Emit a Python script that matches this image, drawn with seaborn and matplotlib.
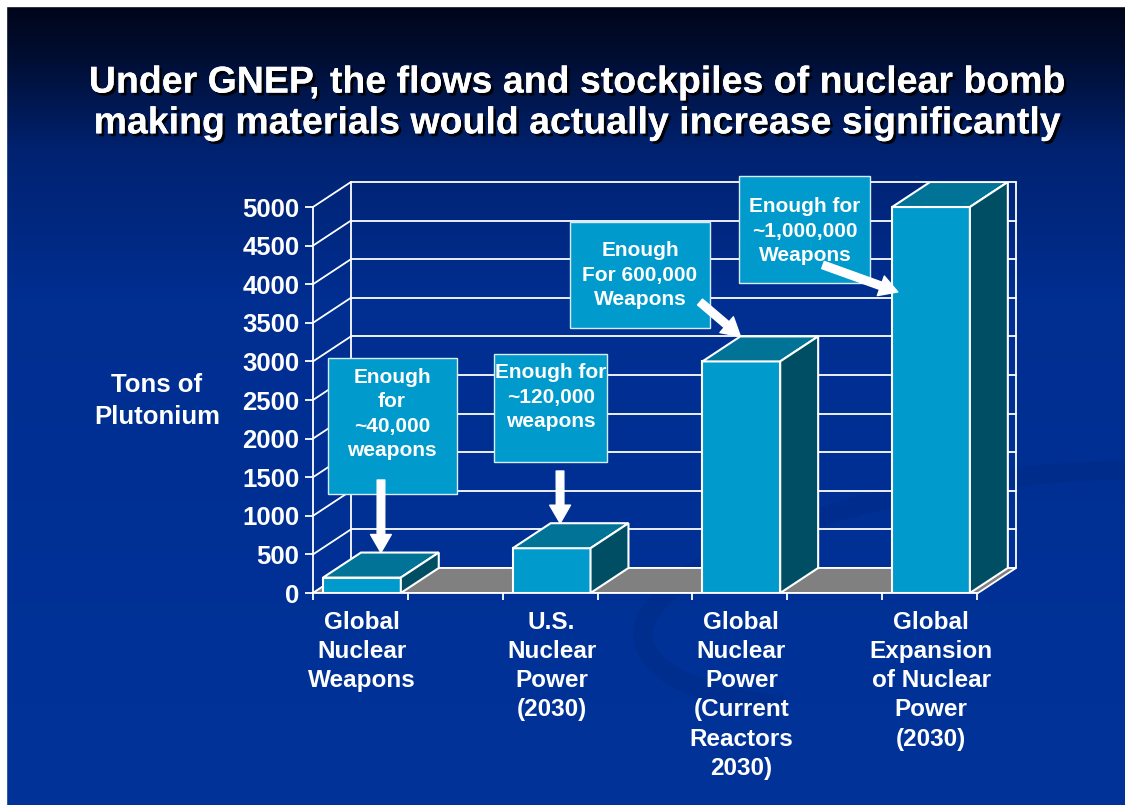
import numpy as np
import matplotlib
matplotlib.use('Agg')
import matplotlib.pyplot as plt
import matplotlib.patheffects as pe
from matplotlib.patches import Polygon, Rectangle, Arc
import seaborn as sns

W, H = 1125, 805

# data
categories = ['Global\nNuclear\nWeapons',
              'U.S.\nNuclear\nPower\n(2030)',
              'Global\nNuclear\nPower\n(Current\nReactors\n2030)',
              'Global\nExpansion\nof Nuclear\nPower\n(2030)']
plutonium_tons = [200, 580, 3000, 5000]
y_ticks = list(range(0, 5001, 500))
callouts = ['Enough\nfor\n~40,000\nweapons',
            'Enough for\n~120,000\nweapons',
            'Enough\nFor 600,000\nWeapons',
            'Enough for\n~1,000,000\nWeapons']
title = ('Under GNEP, the flows and stockpiles of nuclear bomb\n'
         'making materials would actually increase significantly')

front_c = '#009acd'
top_c = '#007396'
side_c = '#004e64'
floor_c = '#808080'

sns.set_theme(style='white')
plt.rcParams['font.family'] = ['Liberation Sans', 'DejaVu Sans']
plt.rcParams['font.weight'] = 'bold'

fig = plt.figure(figsize=(W / 100, H / 100), dpi=100)


def fx(x):
    return x / W


def fy(y):
    return 1 - y / H


## BACKGROUND
bg = fig.add_axes([0, 0, 1, 1], zorder=-10)
stops = np.array([0, 60, 150, 300, 805])
r = np.interp(np.arange(H), stops, [0, 0, 0, 0, 0])
g = np.interp(np.arange(H), stops, [4, 14, 34, 46, 51])
b = np.interp(np.arange(H), stops, [22, 52, 112, 145, 153])
grad = np.stack([r, g, b], axis=-1)[:, None, :] / 255
bg.imshow(grad, aspect='auto', extent=[0, W, H, 0])
bg.add_patch(Arc((1000, 590), 720, 220, angle=-8, theta1=160, theta2=370,
                 color='#002a80', lw=14, alpha=0.35))
bg.add_patch(Rectangle((0, 0), W, 6, color='white'))
bg.add_patch(Rectangle((0, 0), 6, H, color='white'))
bg.set_xlim(0, W)
bg.set_ylim(H, 0)
bg.axis('off')

## CHART
ax = fig.add_axes([fx(313), fy(593), fx(1016) - fx(313), fy(182) - fy(593)])
ax.patch.set_alpha(0)

sns.barplot(x=categories, y=plutonium_tons, color=front_c, saturation=1,
            width=0.41, edgecolor='white', linewidth=1.5, errorbar=None, ax=ax)

x_left, x_right = -0.258, 3.248
dx, dy = 0.2, 324

# 3D faces of the bars
for p in list(ax.patches):
    x0, w, h = p.get_x(), p.get_width(), p.get_height()
    p.set_zorder(4)
    ax.add_patch(Polygon([(x0, h), (x0 + w, h), (x0 + w + dx, h + dy), (x0 + dx, h + dy)],
                         fc=top_c, ec='white', lw=1.5, zorder=4))
    ax.add_patch(Polygon([(x0 + w, 0), (x0 + w + dx, dy), (x0 + w + dx, h + dy), (x0 + w, h)],
                         fc=side_c, ec='white', lw=1.5, zorder=4))

# walls and floor
for t in y_ticks:
    ax.plot([x_left, x_left + dx], [t, t + dy], color='white', lw=1.3, zorder=1, clip_on=False)
    ax.plot([x_left + dx, x_right + dx], [t + dy, t + dy], color='white', lw=1.3, zorder=1,
            clip_on=False)
for xv in [x_left + dx, x_right + dx]:
    ax.plot([xv, xv], [dy, y_ticks[-1] + dy], color='white', lw=1.3, zorder=1, clip_on=False)
ax.add_patch(Polygon([(x_left, 0), (x_right, 0), (x_right + dx, dy), (x_left + dx, dy)],
                     fc=floor_c, ec='white', lw=1.3, zorder=2))

ax.set_xlim(x_left, x_right + dx)
ax.set_ylim(0, y_ticks[-1] + dy)

for s in ['top', 'right']:
    ax.spines[s].set_visible(False)
for s in ['left', 'bottom']:
    ax.spines[s].set_color('white')
    ax.spines[s].set_linewidth(1.3)
    ax.spines[s].set_zorder(5)
ax.spines['left'].set_bounds(0, y_ticks[-1])
ax.spines['bottom'].set_bounds(x_left, x_right)

ax.set_yticks(y_ticks)
ax.tick_params(axis='y', colors='white', length=5.8, width=1.3, direction='out',
               labelsize=18.5, pad=4, left=True)
ax.set_xticks(range(len(categories)), categories)
ax.set_xticks([x_left + 0.5 * k for k in range(8)], minor=True)
ax.tick_params(axis='x', which='major', length=0, pad=13, labelsize=17.5, labelcolor='white')
ax.tick_params(axis='x', which='minor', length=5, width=1.3, color='white',
               direction='out', bottom=True)
for lab in ax.get_xticklabels():
    lab.set_linespacing(1.34)
ax.set_xlabel('')
ax.set_ylabel('Tons of\nPlutonium', rotation=0, color='white', fontsize=18.5,
              fontweight='bold', linespacing=1.4, ha='center', va='center')
ax.yaxis.set_label_coords((157 - 313) / 703, (593 - 401) / 411)

## CALLOUTS
boxes = [(328, 358, 457, 494), (494, 354, 607, 462), (570, 222, 710, 328), (739, 176, 870, 283)]
text_pos = [(392, 414), (551, 397), (640, 275), (805, 231)]
arrow_start = [(381, 480), (560, 471), (700, 302), (823, 265)]
w_bar = 0.41
arrow_tip = [(0 + dx / 2, plutonium_tons[0] + dy),
             (1 + 0.045, plutonium_tons[1] + dy),
             (2 - w_bar / 2 + dx, plutonium_tons[2] + dy),
             (3 - w_bar / 2 + 0.03, 3900)]

for txt, (x1, y1, x2, y2), (tx, ty), (sx, sy), tip in zip(callouts, boxes, text_pos,
                                                            arrow_start, arrow_tip):
    ax.add_patch(Rectangle((fx(x1), fy(y2)), fx(x2) - fx(x1), fy(y1) - fy(y2),
                           transform=fig.transFigure, fc=front_c, ec='#d8ecf5', lw=1,
                           zorder=6, clip_on=False))
    ax.text(fx(tx), fy(ty), txt, transform=fig.transFigure, ha='center', va='center',
            color='white', fontsize=15, linespacing=1.37, zorder=7)
    ax.annotate('', xy=tip, xycoords='data', xytext=(fx(sx), fy(sy)),
                textcoords='figure fraction', annotation_clip=False, zorder=8,
                arrowprops=dict(facecolor='white', edgecolor='white', width=5.5,
                                headwidth=15, headlength=13, shrink=0))

## TITLE
fig.text(fx(577), fy(103), title, ha='center', va='center', color='white', fontsize=27,
         linespacing=1.17,
         path_effects=[pe.withSimplePatchShadow(offset=(2, -2), shadow_rgbFace='black',
                                                alpha=0.9), pe.Normal()])

fig.savefig('out.png', dpi=100)
